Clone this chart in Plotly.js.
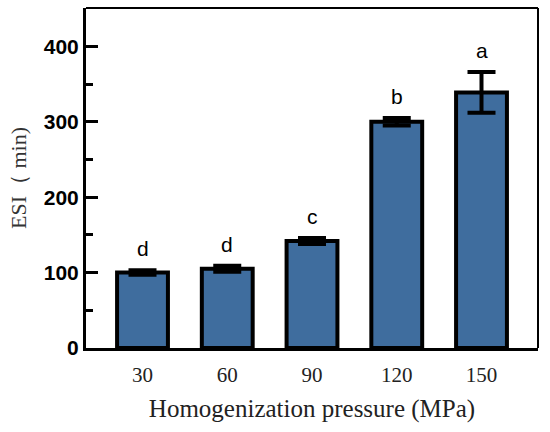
<!DOCTYPE html>
<html>
<head>
<meta charset="utf-8">
<script src="https://cdn.plot.ly/plotly-3.0.1.min.js"></script>
<style>html,body{margin:0;padding:0;background:#fff;}#chart{width:550px;height:432px;}</style>
</head>
<body>
<div id="chart"></div>
<script>
const pressures = [30, 60, 90, 120, 150];
const esiValues = [100, 105, 142, 300, 339];
const esiErrors = [3, 4, 4, 5, 27];
const sigLetters = ['d', 'd', 'c', 'b', 'a'];
const yTickVals = [0, 100, 200, 300, 400];

const trace = {
  type: 'bar',
  x: pressures,
  y: esiValues,
  width: 18,
  marker: { color: '#3F6D9E', line: { color: '#000', width: 4 } },
  error_y: { type: 'data', array: esiErrors, visible: true, color: '#000', thickness: 4, width: 14 }
};

const annotations = pressures.map((p, i) => ({
  x: p, y: esiValues[i] + esiErrors[i], xref: 'x', yref: 'y',
  text: sigLetters[i], showarrow: false, yanchor: 'bottom', yshift: 8,
  font: { family: 'Arial, Liberation Sans, sans-serif', size: 21, color: '#000' }
}));

const layout = {
  width: 550, height: 432,
  margin: { l: 86, r: 12, t: 8, b: 84 },
  paper_bgcolor: '#fff', plot_bgcolor: '#fff',
  showlegend: false,
  xaxis: {
    range: [10, 170], tickvals: pressures, ticktext: pressures.map(String),
    ticks: '', showline: true, linewidth: 3, linecolor: '#000',
    showgrid: false, zeroline: false, ticklabelstandoff: 6,
    tickfont: { family: 'Times New Roman, Liberation Serif, serif', size: 21, color: '#222' },
    title: { text: 'Homogenization pressure (MPa)', standoff: 14,
      font: { family: 'Times New Roman, Liberation Serif, serif', size: 25, color: '#222' } }
  },
  yaxis: {
    range: [0, 451], tickvals: yTickVals, ticks: 'inside', ticklen: 12, tickwidth: 3, tickcolor: '#000',
    minor: { dtick: 50, ticks: 'inside', ticklen: 7, tickwidth: 3, tickcolor: '#000', showgrid: false },
    showline: true, linewidth: 3, linecolor: '#000', showgrid: false, zeroline: false,
    tickfont: { family: 'Arial, Liberation Sans, sans-serif', size: 21, weight: 'bold', color: '#000' },
    title: { text: 'ESI（ min)', standoff: 12,
      font: { family: 'Times New Roman, Liberation Serif, serif', size: 22, color: '#333' } }
  },
  shapes: [
    { type: 'line', xref: 'paper', yref: 'paper', x0: 0, x1: 1, y0: 1, y1: 1, line: { color: '#000', width: 2 } },
    { type: 'line', xref: 'paper', yref: 'paper', x0: 1, x1: 1, y0: 0, y1: 1, line: { color: '#000', width: 2 } }
  ],
  annotations: annotations
};

Plotly.newPlot('chart', [trace], layout, { displayModeBar: false, staticPlot: true });
</script>
</body>
</html>
